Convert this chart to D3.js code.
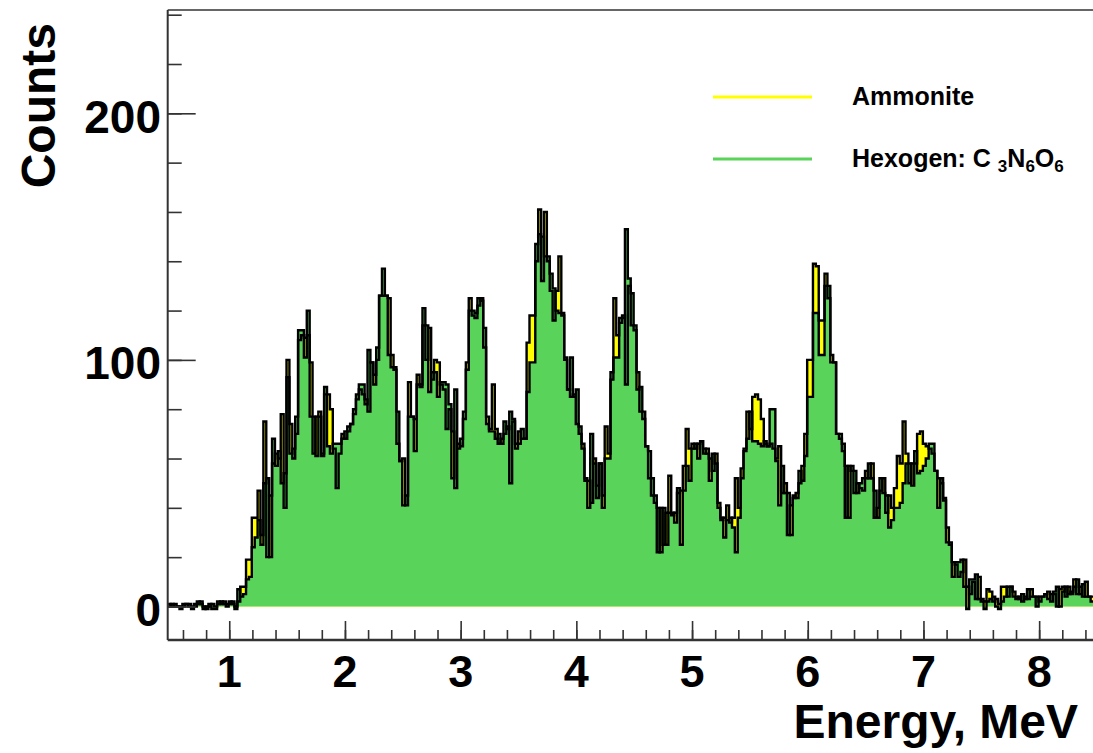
<!DOCTYPE html>
<html><head><meta charset="utf-8">
<script src="https://cdn.jsdelivr.net/npm/d3@7"></script>
<style>
html,body{margin:0;padding:0;background:#fff;}
svg{display:block;}
text{font-family:"Liberation Sans",Arial,Helvetica,sans-serif;font-weight:bold;fill:#000;}
</style></head>
<body>
<svg id="c" width="1093" height="753"></svg>
<script>
// ---- data ----
const binStart = 0.47;   // MeV, left edge of first bin
const binWidth = 0.025;  // MeV
const hexogen = [
0,1,0,0,-1,1,1,0,0,1,2,1,-1,0,1,-1,-1,1,2,1,0,2,1,-1,7,
4,5,11,12,24,28,35,25,50,52,
20,68,57,63,50,54,93,62,64,77,
112,112,101,120,77,77,61,77,61,89,
65,62,66,66,66,68,71,73,74,80,
86,90,90,82,104,99,90,105,126,137,
126,102,97,97,79,59,41,45,77,77,
63,90,89,121,114,87,95,95,85,91,
91,90,82,52,88,64,68,79,96,120,
120,119,125,124,113,74,71,71,68,70,
66,75,72,79,76,64,66,72,68,87,
99,99,147,151,150,142,142,135,129,120,
119,119,101,88,101,85,88,73,64,52,
40,70,58,49,58,40,60,60,95,101,
101,117,117,153,133,127,114,88,89,79,
65,63,52,45,40,22,40,25,38,38,
34,48,25,47,57,51,64,66,60,67,
64,62,51,62,58,40,36,28,35,36,
32,22,36,52,63,68,79,67,67,66,
65,67,65,80,80,59,41,57,46,46,
29,45,44,55,51,61,85,85,119,119,
102,102,130,130,99,99,70,70,66,57,
36,57,55,46,50,52,52,58,52,47,
36,52,46,45,32,35,40,40,42,50,
58,58,49,63,54,55,57,60,66,66,
55,40,52,44,26,26,12,18,18,19,
8,-1,11,11,13,3,2,-1,2,3,
4,0,-1,2,4,8,8,4,4,3,
5,3,7,4,4,4,2,4,5,3,
5,6,8,0,6,8,5,6,8,11,
5,9,4,4,2];
const ammonite = [
1,0,1,0,0,0,1,1,-1,0,1,2,0,-1,0,1,0,2,1,2,1,1,2,0,2,
8,8,19,19,36,36,47,29,75,20,
45,58,62,60,78,40,100,74,60,70,
108,110,109,110,99,62,77,79,62,86,
86,80,64,48,62,70,68,71,74,78,
84,88,86,84,79,99,94,100,126,126,
126,125,102,96,66,59,60,41,91,77,
76,94,90,114,100,113,92,100,99,90,
88,72,80,71,48,66,65,76,99,125,
118,117,122,125,105,77,72,90,72,66,
68,70,73,50,75,66,71,68,68,107,
118,118,140,161,132,160,140,128,116,128,
142,118,100,88,85,86,74,70,66,51,
51,42,60,44,58,45,73,62,92,125,
110,115,118,90,130,114,112,95,79,76,
65,52,45,42,22,40,25,38,53,37,
38,46,47,57,72,64,66,64,66,67,
62,64,60,55,62,42,35,36,41,34,
36,52,40,56,64,79,72,85,86,84,
76,66,65,66,64,60,65,46,50,29,
41,44,46,50,57,70,100,100,139,138,
116,116,135,125,102,99,70,68,63,36,
57,55,46,50,48,47,55,52,58,36,
40,47,52,38,45,40,48,61,58,75,
62,50,58,58,70,71,66,65,64,62,
55,52,50,43,32,25,18,17,12,14,
19,8,5,10,3,12,3,2,7,6,
2,3,1,8,8,4,8,6,3,4,
2,4,3,7,4,0,4,4,5,6,
2,5,0,7,8,4,8,5,11,5,
8,4,10,4,4];
const xMajorTicks = [1,2,3,4,5,6,7,8];
const yMajorTicks = [0,100,200];
const seriesNames = ["Ammonite","Hexogen: C "];
const seriesColors = ["#ffff00","#59d359"];

// ---- layout ----
const svg = d3.select("#c");
const L = 167.7, B = 640, T = 10, R = 1097;
const x = d3.scaleLinear().domain([0.468, 8.5]).range([L, R]);
const y = d3.scaleLinear().domain([-13.6, 241.9]).range([B, T]);

svg.append("defs").append("clipPath").attr("id","pc")
  .append("rect").attr("x",L).attr("y",T).attr("width",R-L).attr("height",B-T);

function pts(arr){
  const p = arr.map((v,i)=>({e: binStart + i*binWidth, v}));
  p.push({e: binStart + arr.length*binWidth, v: arr[arr.length-1]});
  return p;
}
const area = d3.area().curve(d3.curveStepAfter).x(d=>x(d.e)).y0(y(0)).y1(d=>y(d.v));
const line = d3.line().curve(d3.curveStepAfter).x(d=>x(d.e)).y(d=>y(d.v));

const g = svg.append("g").attr("clip-path","url(#pc)");
const pA = pts(ammonite), pH = pts(hexogen);
g.append("path").attr("d",area(pA)).attr("fill",seriesColors[0]);
g.append("path").attr("d",area(pH)).attr("fill",seriesColors[1]);
g.append("path").attr("d",line(pA)).attr("fill","none").attr("stroke","#000").attr("stroke-width",2.4).attr("stroke-linejoin","miter");
g.append("path").attr("d",line(pH)).attr("fill","none").attr("stroke","#000").attr("stroke-width",2.4).attr("stroke-linejoin","miter");

// ---- axes (ROOT style, ticks inside) ----
const axC = "#333";
const yAxis = d3.axisRight(y).tickValues(yMajorTicks).tickSize(28).tickFormat("");
const yMinor = d3.axisRight(y).tickValues(d3.range(0, 241, 20)).tickSize(14).tickFormat("");
const xAxis = d3.axisTop(x).tickValues(xMajorTicks).tickSize(19).tickFormat("");
const xMinor = d3.axisTop(x).tickValues(d3.range(0.6, 8.5, 0.2)).tickSize(10).tickFormat("");
[[yMinor,`translate(${L},0)`],[yAxis,`translate(${L},0)`],[xMinor,`translate(0,${B})`],[xAxis,`translate(0,${B})`]]
 .forEach(([ax,tr])=>{
   const a = svg.append("g").attr("transform",tr).call(ax);
   a.select(".domain").remove();
   a.selectAll("line").attr("stroke",axC).attr("stroke-width",1.6);
 });
// frame
svg.append("line").attr("x1",L).attr("x2",L).attr("y1",T).attr("y2",B).attr("stroke",axC).attr("stroke-width",2);
svg.append("line").attr("x1",L).attr("x2",1093).attr("y1",B).attr("y2",B).attr("stroke",axC).attr("stroke-width",2.4);
svg.append("line").attr("x1",L).attr("x2",1093).attr("y1",T).attr("y2",T).attr("stroke",axC).attr("stroke-width",1.6);

// tick labels
svg.selectAll(".yl").data(yMajorTicks).join("text").attr("class","yl")
  .attr("x",161).attr("y",d=>y(d)+19.5).attr("text-anchor","end").attr("font-size",46).text(d=>d);
svg.selectAll(".xl").data(xMajorTicks).join("text").attr("class","xl")
  .attr("x",d=>x(d)).attr("y",687).attr("text-anchor","middle").attr("font-size",45).text(d=>d);

// axis titles
svg.append("text").attr("transform","translate(55,23) rotate(-90)").attr("text-anchor","end")
  .attr("font-size",48).text("Counts");
svg.append("text").attr("x",1078).attr("y",738).attr("text-anchor","end").attr("font-size",48).text("Energy, MeV");

// legend
const lg = svg.append("g");
lg.append("line").attr("x1",713).attr("x2",812).attr("y1",97).attr("y2",97).attr("stroke",seriesColors[0]).attr("stroke-width",3);
lg.append("line").attr("x1",713).attr("x2",812).attr("y1",159).attr("y2",159).attr("stroke",seriesColors[1]).attr("stroke-width",3);
lg.append("text").attr("x",852).attr("y",105).attr("font-size",25).text(seriesNames[0]);
const t2 = lg.append("text").attr("x",852).attr("y",167).attr("font-size",25);
t2.append("tspan").text(seriesNames[1]);
t2.append("tspan").attr("font-size",17).attr("dy",5).text("3");
t2.append("tspan").attr("dy",-5).text("N");
t2.append("tspan").attr("font-size",17).attr("dy",5).text("6");
t2.append("tspan").attr("dy",-5).text("O");
t2.append("tspan").attr("font-size",17).attr("dy",5).text("6");
</script>
</body></html>
